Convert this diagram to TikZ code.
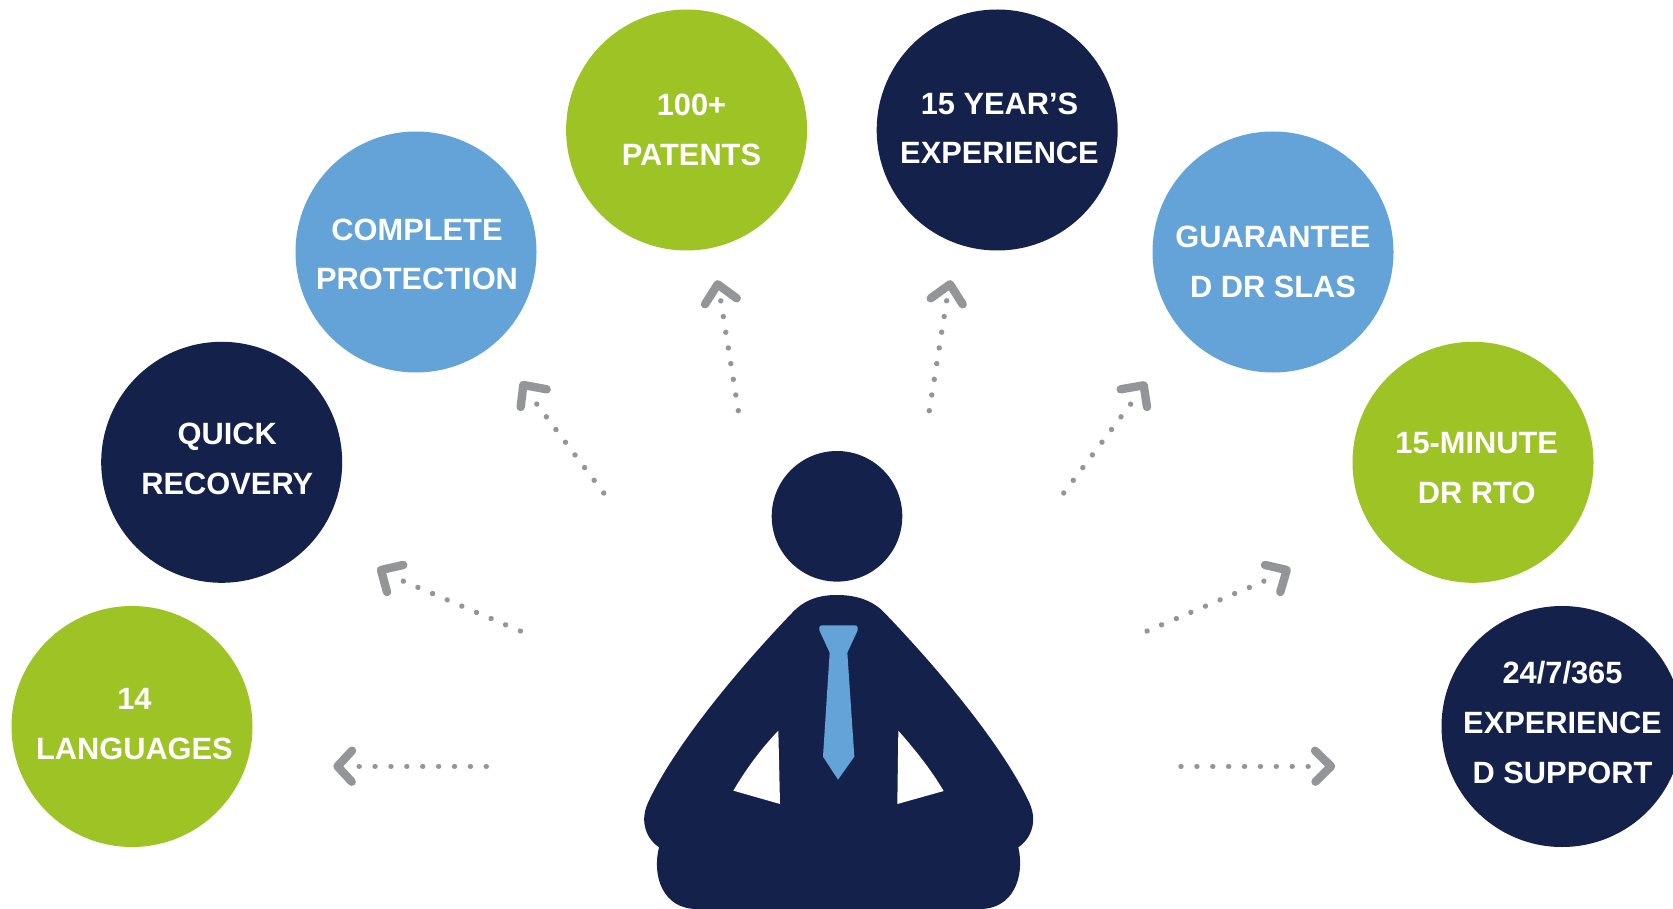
\documentclass[tikz,border=0pt]{standalone}
\usepackage{fontspec}
\setmainfont{Liberation Sans}
\definecolor{navy}{HTML}{14214B}
\definecolor{skyb}{HTML}{64A3D8}
\definecolor{lime}{HTML}{9DC324}
\definecolor{greyarrow}{HTML}{939598}
\tikzset{
  bubble/.style={circle,inner sep=0pt,outer sep=0pt,minimum size=241pt},
  navybubble/.style={bubble,fill=navy},
  skybubble/.style={bubble,fill=skyb},
  limebubble/.style={bubble,fill=lime},
  caption/.style={text=white,inner sep=0pt,outer sep=0pt,align=center,font=\fontsize{30.8}{49.6}\selectfont\bfseries},
  dotline/.style={draw=greyarrow,line width=5.4pt,line cap=round,dash pattern=on 0.01pt off 15.88pt},
  barb/.style={draw=greyarrow,line width=8.4pt,line cap=round,line join=round},
}
\begin{document}
\begin{tikzpicture}[x=1pt,y=-1pt]
\clip (0,0) rectangle (1673,909);
\useasboundingbox (0,0) rectangle (1673,909);
% bubbles
\node[limebubble] (c1) at (132,726.5) {};
\node[navybubble] (c2) at (221.7,462.3) {};
\node[skybubble]  (c3) at (416,252) {};
\node[limebubble] (c4) at (686.6,130) {};
\node[navybubble] (c5) at (997.2,130) {};
\node[skybubble]  (c6) at (1273,252) {};
\node[limebubble] (c7) at (1473,462.3) {};
\node[navybubble] (c8) at (1562,726.5) {};
% captions
\node[caption] (t1) at (134.4,724.5) {\strut 14\\\strut LANGUAGES};
\node[caption] (t2) at (227.3,459.5) {\strut QUICK\\\strut RECOVERY};
\node[caption] (t3) at (417,255) {\strut COMPLETE\\\strut PROTECTION};
\node[caption] (t4) at (691.5,130.5) {\strut 100+\hspace{4pt}\\\strut PATENTS};
\node[caption] (t5) at (999.5,129) {\strut 15 YEAR’S\\\strut EXPERIENCE};
\node[caption] (t6) at (1273,262.5) {\strut GUARANTEE\\\strut D DR SLAS};
\node[caption] (t7) at (1476.7,468.5) {\strut 15-MINUTE\\\strut DR RTO};
\node[caption] (t8) at (1562.5,723.5) {\strut 24/7/365\\\strut EXPERIENCE\\\strut D SUPPORT};
% person
\node[circle,fill=navy,inner sep=0pt,outer sep=0pt,minimum size=130.6pt] (head) at (837,516.3) {};
\begin{scope}[shift={(620,430)},x=0.33333pt,y=-0.33333pt]
\fill[navy] (651,495) .. controls (710,495) and (760,512) .. (795,550)
  .. controls (960,722) and (1150,950) .. (1228,1118)
  .. controls (1256,1180) and (1228,1230) .. (1195,1252)
  .. controls (1215,1340) and (1180,1437) .. (1080,1437)
  -- (230,1437)
  .. controls (130,1437) and (95,1340) .. (117,1252)
  .. controls (84,1230) and (56,1180) .. (84,1118)
  .. controls (162,950) and (350,722) .. (515,550)
  .. controls (550,512) and (592,495) .. (651,495) -- cycle;
\fill[white] (475,902) .. controls (420,960) and (380,1015) .. (340,1082) -- (480,1122) -- cycle;
\fill[white] (835,902) .. controls (890,965) and (930,1015) .. (971,1083) -- (832,1122) -- cycle;
\fill[skyb] (607,586) -- (704,586) .. controls (713,586) and (716,594) .. (713,601)
  -- (682,668) -- (703,980) -- (654,1049) -- (609,980) -- (629,668) -- (598,601)
  .. controls (595,594) and (598,586) .. (607,586) -- cycle;
\end{scope}
% arrows
\coordinate (a1s) at (486.3,766.3); \coordinate (a1e) at (359,766.3);
\coordinate (a2s) at (520.3,631);   \coordinate (a2e) at (403,581);
\coordinate (a3s) at (603.7,493);   \coordinate (a3e) at (536.7,404);
\coordinate (a4s) at (738.3,410.7); \coordinate (a4e) at (720.7,300.3);
\coordinate (a5s) at (929.3,410.7); \coordinate (a5e) at (946.7,300.3);
\coordinate (a6s) at (1063.7,493);  \coordinate (a6e) at (1130.7,404);
\coordinate (a7s) at (1147,631);    \coordinate (a7e) at (1264.3,581);
\coordinate (a8s) at (1181,766.3);  \coordinate (a8e) at (1308.7,766.3);
\foreach \i in {1,...,8} \draw[dotline] (a\i s) -- (a\i e);
\coordinate (b1a) at (352,750.7); \coordinate (b1c) at (337.5,766.3); \coordinate (b1b) at (351.7,781.7);
\coordinate (b2a) at (403.3,565); \coordinate (b2c) at (381,570);     \coordinate (b2b) at (387,592);
\coordinate (b3a) at (546.7,389.3); \coordinate (b3c) at (523.3,385); \coordinate (b3b) at (520.7,407);
\coordinate (b4a) at (705,304.3); \coordinate (b4c) at (717.7,284.3); \coordinate (b4b) at (736.7,298.3);
\coordinate (b5a) at (930.7,298.3); \coordinate (b5c) at (950,284.3); \coordinate (b5b) at (962.7,304.3);
\coordinate (b6a) at (1120.7,389.3); \coordinate (b6c) at (1143.7,385.3); \coordinate (b6b) at (1147,407);
\coordinate (b7a) at (1265,565); \coordinate (b7c) at (1286.7,570); \coordinate (b7b) at (1280.3,592);
\coordinate (b8a) at (1315,750.7); \coordinate (b8c) at (1331,766.3); \coordinate (b8b) at (1315.5,781.7);
\foreach \i in {1,...,8} \draw[barb] (b\i a) -- (b\i c) -- (b\i b);
\end{tikzpicture}
\end{document}
